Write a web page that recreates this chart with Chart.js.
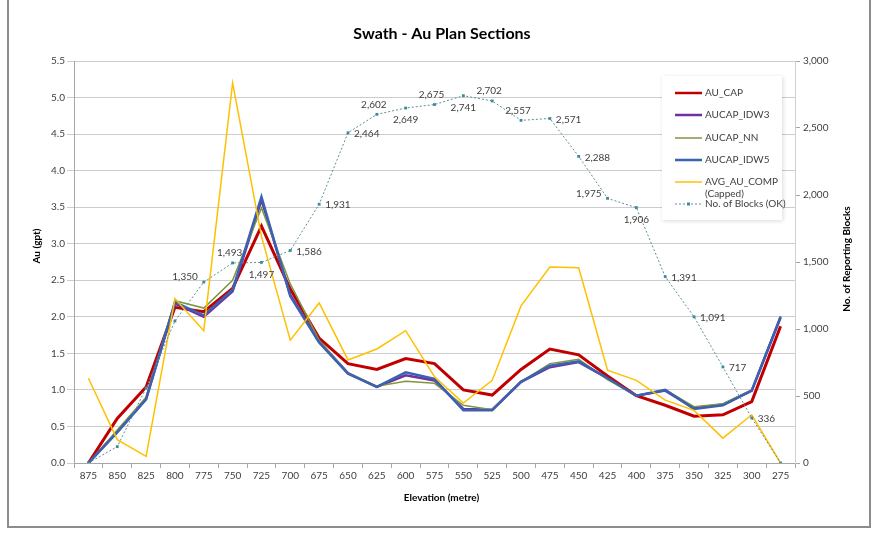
<!DOCTYPE html>
<html>
<head>
<meta charset="utf-8">
<script src="https://cdn.jsdelivr.net/npm/chart.js@4.4.1/dist/chart.umd.min.js"></script>
<style>
html,body{margin:0;padding:0;background:#fff;}
canvas{display:block;}
</style>
</head>
<body>
<canvas id="c" width="887" height="543"></canvas>
<script>
const categories = ['875','850','825','800','775','750','725','700','675','650','625','600','575','550','525','500','475','450','425','400','375','350','325','300','275'];
const auCap      = [0, 0.61, 1.04, 2.13, 2.07, 2.39, 3.24, 2.38, 1.71, 1.36, 1.28, 1.43, 1.36, 1.00, 0.93, 1.28, 1.56, 1.48, 1.19, 0.92, 0.79, 0.64, 0.66, 0.84, 1.87];
const aucapIdw3  = [0, 0.43, 0.88, 2.18, 2.00, 2.35, 3.60, 2.30, 1.66, 1.23, 1.04, 1.20, 1.13, 0.74, 0.73, 1.11, 1.31, 1.38, 1.16, 0.92, 0.99, 0.75, 0.80, 0.99, 1.99];
const aucapNn    = [0, 0.45, 0.90, 2.22, 2.12, 2.50, 3.49, 2.45, 1.68, 1.23, 1.05, 1.12, 1.09, 0.79, 0.73, 1.11, 1.36, 1.42, 1.14, 0.92, 1.00, 0.77, 0.81, 1.00, 2.01];
const aucapIdw5  = [0, 0.42, 0.87, 2.20, 2.02, 2.37, 3.64, 2.28, 1.65, 1.22, 1.04, 1.24, 1.15, 0.72, 0.72, 1.11, 1.33, 1.39, 1.16, 0.92, 1.00, 0.74, 0.79, 0.99, 2.00];
const avgAuComp  = [1.16, 0.32, 0.09, 2.25, 1.81, 5.20, 3.10, 1.68, 2.19, 1.41, 1.56, 1.81, 1.18, 0.82, 1.13, 2.15, 2.68, 2.67, 1.27, 1.13, 0.86, 0.72, 0.34, 0.66, 0.00];
const blocks     = [0, 122, 560, 1060, 1350, 1493, 1497, 1586, 1931, 2464, 2602, 2649, 2675, 2741, 2702, 2557, 2571, 2288, 1975, 1906, 1391, 1091, 717, 336, 0];
const blockLabelPos = ['', '', '', '', 'left', 'above', 'below', 'right', 'right', 'right', 'above', 'below', 'above', 'below', 'above', 'above', 'right', 'right', 'left', 'below', 'right', 'right', 'right', 'right', ''];
const leftTicks = [0, 0.5, 1, 1.5, 2, 2.5, 3, 3.5, 4, 4.5, 5, 5.5];
const rightTicks = [0, 500, 1000, 1500, 2000, 2500, 3000];

const FONT = 'Lato, "Open Sans", sans-serif';
const TXT = '#404040';

const fmt = v => v.toLocaleString('en-US');

const decorPlugin = {
  id: 'decor',
  beforeDraw(chart) {
    const ctx = chart.ctx;
    ctx.save();
    ctx.fillStyle = '#fff';
    ctx.fillRect(0, 0, chart.width, chart.height);
    ctx.restore();
  },
  afterDraw(chart) {
    const ctx = chart.ctx;
    const ca = chart.chartArea;
    ctx.save();
    // outer frame (left, right, bottom)
    ctx.strokeStyle = '#8c8c8c';
    ctx.lineWidth = 2;
    ctx.beginPath();
    ctx.moveTo(8, 0);
    ctx.lineTo(8, 527);
    ctx.lineTo(870, 527);
    ctx.lineTo(870, 0);
    ctx.stroke();
    // title
    ctx.fillStyle = '#000';
    ctx.font = 'bold 16px ' + FONT;
    ctx.textAlign = 'center';
    ctx.textBaseline = 'middle';
    ctx.fillText('Swath - Au Plan Sections', 442, 34);
    // axis titles
    ctx.font = 'bold 10px ' + FONT;
    ctx.fillStyle = '#000';
    ctx.fillText('Elevation (metre)', (ca.left + ca.right) / 2 + 7, 498);
    ctx.save();
    ctx.translate(37, 246);
    ctx.rotate(-Math.PI / 2);
    ctx.fillText('Au (gpt)', 0, 0);
    ctx.restore();
    ctx.save();
    ctx.translate(847, 259);
    ctx.rotate(-Math.PI / 2);
    ctx.fillText('No. of Reporting Blocks', 0, 0);
    ctx.restore();

    // block data labels
    const meta = chart.getDatasetMeta(5);
    ctx.font = '10px ' + FONT;
    ctx.fillStyle = TXT;
    meta.data.forEach((pt, i) => {
      const pos = blockLabelPos[i];
      if (!pos) return;
      const t = fmt(blocks[i]);
      let x = pt.x, y = pt.y;
      if (pos === 'right') { ctx.textAlign = 'left'; x += 6; y += 1; }
      else if (pos === 'left') { ctx.textAlign = 'right'; x -= 6; y -= 5; }
      else if (pos === 'above') { ctx.textAlign = 'center'; y -= 10; x -= 3; }
      else if (pos === 'below') { ctx.textAlign = 'center'; y += 12; }
      ctx.textBaseline = 'middle';
      ctx.fillText(t, x, y);
    });

    // legend
    const bx = 662, by = 76, bw = 120, bh = 144;
    ctx.save();
    ctx.shadowColor = 'rgba(0,0,0,0.15)';
    ctx.shadowBlur = 4;
    ctx.shadowOffsetX = 1;
    ctx.shadowOffsetY = 1;
    ctx.fillStyle = '#fff';
    ctx.fillRect(bx, by, bw, bh);
    ctx.restore();
    const rows = [93, 115, 138, 160, 182, 204];
    chart.data.datasets.forEach((ds, i) => {
      const y = rows[i];
      ctx.save();
      ctx.strokeStyle = ds.borderColor;
      ctx.lineWidth = Math.min(ds.borderWidth, 2.5);
      ctx.setLineDash(ds.borderDash || []);
      ctx.beginPath();
      ctx.moveTo(675, y);
      ctx.lineTo(702, y);
      ctx.stroke();
      if (ds.pointRadius) {
        ctx.setLineDash([]);
        ctx.fillStyle = ds.pointBackgroundColor;
        ctx.fillRect(687, y - 1.5, 3, 3);
      }
      ctx.restore();
      ctx.font = '10px ' + FONT;
      ctx.fillStyle = TXT;
      ctx.textAlign = 'left';
      ctx.textBaseline = 'middle';
      const lines = ds.label.split('\n');
      lines.forEach((ln, k) => ctx.fillText(ln, 705, y + k * 11.5));
    });
    ctx.restore();
  }
};

const chart = new Chart(document.getElementById('c'), {
  type: 'line',
  data: {
    labels: categories,
    datasets: [
      { label: 'AU_CAP', data: auCap, borderColor: '#C00000', backgroundColor: '#C00000', borderWidth: 3, pointRadius: 0, yAxisID: 'y', order: 5 },
      { label: 'AUCAP_IDW3', data: aucapIdw3, borderColor: '#7030A0', backgroundColor: '#7030A0', borderWidth: 2.5, pointRadius: 0, yAxisID: 'y', order: 4 },
      { label: 'AUCAP_NN', data: aucapNn, borderColor: '#7F9640', backgroundColor: '#7F9640', borderWidth: 1.5, pointRadius: 0, yAxisID: 'y', order: 3 },
      { label: 'AUCAP_IDW5', data: aucapIdw5, borderColor: '#3A62B0', backgroundColor: '#3A62B0', borderWidth: 2.5, pointRadius: 0, yAxisID: 'y', order: 2 },
      { label: 'AVG_AU_COMP\n(Capped)', data: avgAuComp, borderColor: '#FFC000', backgroundColor: '#FFC000', borderWidth: 1.5, pointRadius: 0, yAxisID: 'y', order: 1 },
      { label: 'No. of Blocks (OK)', data: blocks, borderColor: '#5F8E99', backgroundColor: '#3E8A9A', borderWidth: 1, borderDash: [2, 2], pointRadius: 2, pointStyle: 'rect', pointBackgroundColor: '#3E8A9A', pointBorderColor: '#3E8A9A', pointBorderWidth: 0, yAxisID: 'y1', order: 0 }
    ]
  },
  options: {
    responsive: false,
    animation: false,
    devicePixelRatio: 1,
    layout: { padding: { top: 61, left: 0, right: 0, bottom: 0 } },
    elements: { line: { tension: 0 } },
    plugins: { legend: { display: false }, title: { display: false }, tooltip: { enabled: false } },
    scales: {
      x: {
        type: 'category',
        offset: true,
        grid: { offset: true, drawOnChartArea: false, color: '#A6A6A6', tickLength: 5 },
        border: { color: '#A6A6A6' },
        ticks: { color: '#404040', font: { family: FONT, size: 10 }, padding: 2, maxRotation: 0, autoSkip: false },
        afterFit: s => { s.height = 80; }
      },
      y: {
        position: 'left',
        min: 0, max: 5.5,
        afterBuildTicks: s => { s.ticks = leftTicks.map(v => ({ value: v })); },
        grid: { color: '#CCCCCC', tickLength: 7 },
        border: { color: '#A6A6A6' },
        ticks: { color: '#404040', font: { family: FONT, size: 10 }, padding: 2, callback: v => Number(v).toFixed(1) },
        afterFit: s => { s.width = 74; }
      },
      y1: {
        position: 'right',
        min: 0, max: 3000,
        afterBuildTicks: s => { s.ticks = rightTicks.map(v => ({ value: v })); },
        grid: { drawOnChartArea: false, color: '#A6A6A6', tickLength: 5 },
        border: { color: '#D0D0D0' },
        ticks: { color: '#404040', font: { family: FONT, size: 10 }, padding: 3, callback: v => fmt(v) },
        afterFit: s => { s.width = 92; }
      }
    }
  },
  plugins: [decorPlugin]
});
</script>
</body>
</html>
